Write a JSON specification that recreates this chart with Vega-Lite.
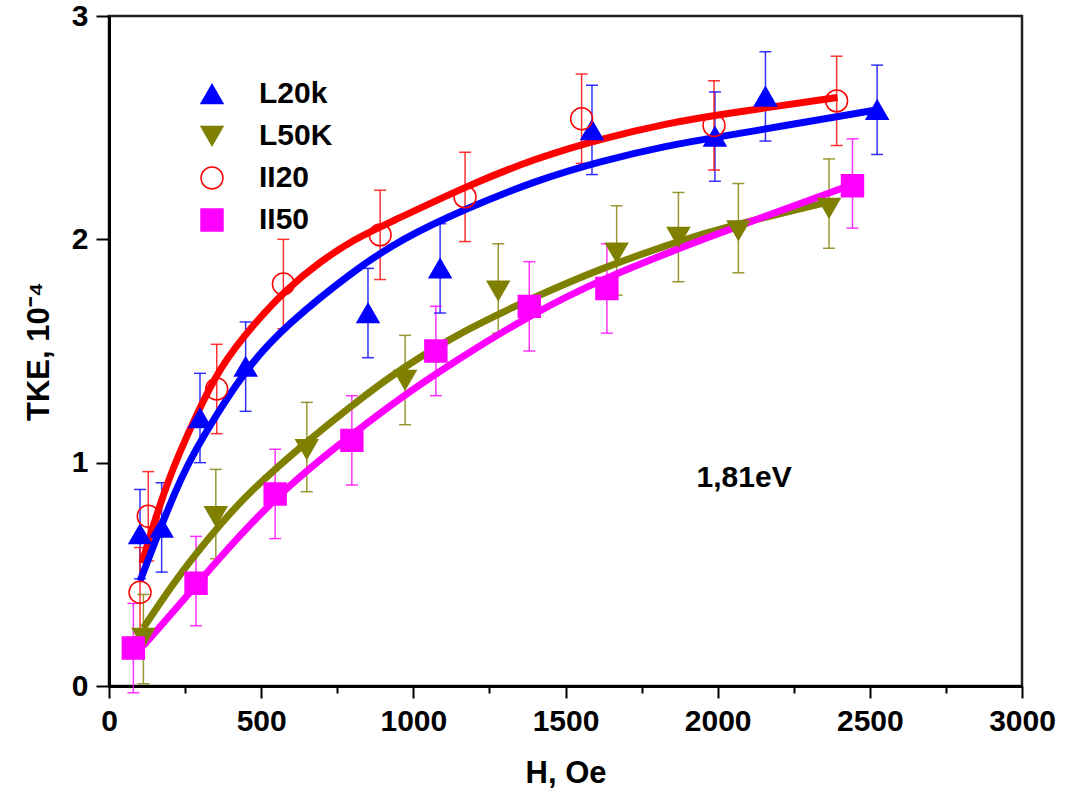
{
  "$schema": "https://vega.github.io/schema/vega-lite/v6.json",
  "width": 913,
  "height": 670,
  "autosize": {"type": "none"},
  "padding": {"left": 109, "top": 16, "right": 46, "bottom": 115},
  "background": "white",
  "config": {
    "view": {"stroke": "#222222", "strokeWidth": 2.5},
    "axis": {
      "grid": false,
      "domainColor": "black",
      "domainWidth": 3,
      "tickColor": "black",
      "tickWidth": 2,
      "labelFont": "Liberation Sans",
      "labelFontWeight": "bold",
      "labelFontSize": 30,
      "labelColor": "black",
      "titleFont": "Liberation Sans",
      "titleFontWeight": "bold",
      "titleFontSize": 31,
      "titleColor": "black",
      "labelOverlap": false,
      "labelFlush": false
    }
  },
  "resolve": {"scale": {"color": "independent"}, "legend": {"color": "independent"}},
  "datasets": {
    "pts": [
      {"series": "L20k", "h": 102, "tke": 0.68, "lo": 0.48, "hi": 0.88},
      {"series": "L20k", "h": 173, "tke": 0.71, "lo": 0.51, "hi": 0.91},
      {"series": "L20k", "h": 299, "tke": 1.20, "lo": 1.00, "hi": 1.40},
      {"series": "L20k", "h": 449, "tke": 1.43, "lo": 1.23, "hi": 1.63},
      {"series": "L20k", "h": 851, "tke": 1.67, "lo": 1.47, "hi": 1.87},
      {"series": "L20k", "h": 1088, "tke": 1.87, "lo": 1.67, "hi": 2.07},
      {"series": "L20k", "h": 1587, "tke": 2.49, "lo": 2.29, "hi": 2.69},
      {"series": "L20k", "h": 1991, "tke": 2.46, "lo": 2.26, "hi": 2.66},
      {"series": "L20k", "h": 2157, "tke": 2.64, "lo": 2.44, "hi": 2.84},
      {"series": "L20k", "h": 2524, "tke": 2.58, "lo": 2.38, "hi": 2.78},
      {"series": "L50K", "h": 113, "tke": 0.215, "lo": 0.01, "hi": 0.41},
      {"series": "L50K", "h": 351, "tke": 0.76, "lo": 0.57, "hi": 0.97},
      {"series": "L50K", "h": 650, "tke": 1.06, "lo": 0.87, "hi": 1.27},
      {"series": "L50K", "h": 973, "tke": 1.37, "lo": 1.17, "hi": 1.57},
      {"series": "L50K", "h": 1279, "tke": 1.77, "lo": 1.58, "hi": 1.98},
      {"series": "L50K", "h": 1668, "tke": 1.94, "lo": 1.75, "hi": 2.15},
      {"series": "L50K", "h": 1871, "tke": 2.01, "lo": 1.81, "hi": 2.21},
      {"series": "L50K", "h": 2068, "tke": 2.04, "lo": 1.85, "hi": 2.25},
      {"series": "L50K", "h": 2366, "tke": 2.14, "lo": 1.96, "hi": 2.36},
      {"series": "II20", "h": 102, "tke": 0.42, "lo": 0.22, "hi": 0.62},
      {"series": "II20", "h": 129, "tke": 0.76, "lo": 0.56, "hi": 0.96},
      {"series": "II20", "h": 354, "tke": 1.33, "lo": 1.13, "hi": 1.53},
      {"series": "II20", "h": 573, "tke": 1.80, "lo": 1.60, "hi": 2.00},
      {"series": "II20", "h": 891, "tke": 2.02, "lo": 1.82, "hi": 2.22},
      {"series": "II20", "h": 1170, "tke": 2.19, "lo": 1.99, "hi": 2.39},
      {"series": "II20", "h": 1553, "tke": 2.54, "lo": 2.34, "hi": 2.74},
      {"series": "II20", "h": 1988, "tke": 2.51, "lo": 2.31, "hi": 2.71},
      {"series": "II20", "h": 2391, "tke": 2.62, "lo": 2.42, "hi": 2.82},
      {"series": "II50", "h": 80, "tke": 0.17, "lo": -0.03, "hi": 0.37},
      {"series": "II50", "h": 286, "tke": 0.46, "lo": 0.27, "hi": 0.67},
      {"series": "II50", "h": 546, "tke": 0.86, "lo": 0.66, "hi": 1.06},
      {"series": "II50", "h": 798, "tke": 1.10, "lo": 0.90, "hi": 1.30},
      {"series": "II50", "h": 1074, "tke": 1.50, "lo": 1.30, "hi": 1.70},
      {"series": "II50", "h": 1381, "tke": 1.70, "lo": 1.50, "hi": 1.90},
      {"series": "II50", "h": 1636, "tke": 1.78, "lo": 1.58, "hi": 1.98},
      {"series": "II50", "h": 2443, "tke": 2.24, "lo": 2.05, "hi": 2.45}
    ],
    "fits": [
      {"series": "II20", "h": 108, "tke": 0.55},
      {"series": "II20", "h": 190, "tke": 0.92},
      {"series": "II20", "h": 289, "tke": 1.22},
      {"series": "II20", "h": 365, "tke": 1.43},
      {"series": "II20", "h": 475, "tke": 1.62},
      {"series": "II20", "h": 585, "tke": 1.78},
      {"series": "II20", "h": 694, "tke": 1.90},
      {"series": "II20", "h": 804, "tke": 2.00},
      {"series": "II20", "h": 914, "tke": 2.07},
      {"series": "II20", "h": 1177, "tke": 2.24},
      {"series": "II20", "h": 1396, "tke": 2.36},
      {"series": "II20", "h": 1615, "tke": 2.45},
      {"series": "II20", "h": 1835, "tke": 2.52},
      {"series": "II20", "h": 2010, "tke": 2.56},
      {"series": "II20", "h": 2394, "tke": 2.635},
      {"series": "L20k", "h": 102, "tke": 0.47},
      {"series": "L20k", "h": 223, "tke": 0.90},
      {"series": "L20k", "h": 300, "tke": 1.10},
      {"series": "L20k", "h": 453, "tke": 1.43},
      {"series": "L20k", "h": 585, "tke": 1.62},
      {"series": "L20k", "h": 804, "tke": 1.86},
      {"series": "L20k", "h": 958, "tke": 2.00},
      {"series": "L20k", "h": 1177, "tke": 2.14},
      {"series": "L20k", "h": 1396, "tke": 2.26},
      {"series": "L20k", "h": 1615, "tke": 2.35},
      {"series": "L20k", "h": 1835, "tke": 2.42},
      {"series": "L20k", "h": 2010, "tke": 2.46},
      {"series": "L20k", "h": 2525, "tke": 2.58},
      {"series": "L50K", "h": 113, "tke": 0.26},
      {"series": "L50K", "h": 230, "tke": 0.50},
      {"series": "L50K", "h": 375, "tke": 0.74},
      {"series": "L50K", "h": 463, "tke": 0.87},
      {"series": "L50K", "h": 628, "tke": 1.07},
      {"series": "L50K", "h": 792, "tke": 1.25},
      {"series": "L50K", "h": 956, "tke": 1.42},
      {"series": "L50K", "h": 1177, "tke": 1.60},
      {"series": "L50K", "h": 1396, "tke": 1.74},
      {"series": "L50K", "h": 1615, "tke": 1.87},
      {"series": "L50K", "h": 1890, "tke": 2.00},
      {"series": "L50K", "h": 2010, "tke": 2.05},
      {"series": "L50K", "h": 2372, "tke": 2.17},
      {"series": "II50", "h": 113, "tke": 0.18},
      {"series": "II50", "h": 286, "tke": 0.45},
      {"series": "II50", "h": 354, "tke": 0.56},
      {"series": "II50", "h": 562, "tke": 0.87},
      {"series": "II50", "h": 792, "tke": 1.12},
      {"series": "II50", "h": 956, "tke": 1.29},
      {"series": "II50", "h": 1153, "tke": 1.47},
      {"series": "II50", "h": 1396, "tke": 1.67},
      {"series": "II50", "h": 1615, "tke": 1.82},
      {"series": "II50", "h": 1947, "tke": 2.00},
      {"series": "II50", "h": 2431, "tke": 2.24}
    ],
    "notes": [
      {"h": 2087, "tke": 0.93, "label": "1,81eV"}
    ]
  },
  "encoding": {
    "x": {
      "field": "h", "type": "quantitative",
      "scale": {"domain": [0, 3000], "nice": false, "zero": false},
      "axis": {
        "title": "H, Oe",
        "values": [0, 250, 500, 750, 1000, 1250, 1500, 1750, 2000, 2250, 2500, 2750, 3000],
        "labelExpr": "datum.value % 500 === 0 ? datum.label : ''",
        "format": "d",
        "tickSize": {"condition": {"test": "datum.value % 500 === 0", "value": 12}, "value": 7},
        "labelPadding": 8,
        "titlePadding": 22
      }
    },
    "y": {
      "field": "tke", "type": "quantitative",
      "scale": {"domain": [0, 3], "nice": false, "zero": false},
      "axis": {
        "title": "TKE, 10⁻⁴",
        "values": [0, 0.5, 1, 1.5, 2, 2.5, 3],
        "format": "d",
        "labelExpr": "datum.value % 1 === 0 ? datum.label : ''",
        "tickSize": {"condition": {"test": "datum.value % 1 === 0", "value": 13}, "value": 7},
        "labelPadding": 8,
        "titlePadding": 16
      }
    }
  },
  "layer": [
    {
      "data": {"name": "pts"},
      "mark": {"type": "rule", "strokeWidth": 1.5, "opacity": 0.8},
      "encoding": {
        "y": {"field": "lo", "type": "quantitative"}, "y2": {"field": "hi"},
        "color": {"field": "series", "type": "nominal", "legend": null,
          "scale": {"domain": ["L20k", "L50K", "II20", "II50"], "range": ["#0000ff", "#808000", "#ff0000", "#ff00ff"]}}
      }
    },
    {
      "data": {"name": "pts"},
      "mark": {"type": "tick", "orient": "horizontal", "size": 12, "thickness": 1.5, "opacity": 0.8},
      "encoding": {
        "y": {"field": "lo", "type": "quantitative"},
        "color": {"field": "series", "type": "nominal", "legend": null,
          "scale": {"domain": ["L20k", "L50K", "II20", "II50"], "range": ["#0000ff", "#808000", "#ff0000", "#ff00ff"]}}
      }
    },
    {
      "data": {"name": "pts"},
      "mark": {"type": "tick", "orient": "horizontal", "size": 12, "thickness": 1.5, "opacity": 0.8},
      "encoding": {
        "y": {"field": "hi", "type": "quantitative"},
        "color": {"field": "series", "type": "nominal", "legend": null,
          "scale": {"domain": ["L20k", "L50K", "II20", "II50"], "range": ["#0000ff", "#808000", "#ff0000", "#ff00ff"]}}
      }
    },
    {
      "data": {"name": "fits"},
      "mark": {"type": "line", "strokeWidth": 7, "interpolate": "basis"},
      "encoding": {
        "color": {"field": "series", "type": "nominal", "legend": null,
          "scale": {"domain": ["L20k", "L50K", "II20", "II50"], "range": ["#0000ff", "#808000", "#ff0000", "#ff00ff"]}}
      }
    },
    {
      "data": {"name": "pts"},
      "mark": {"type": "point", "strokeWidth": 1.5, "opacity": 1},
      "encoding": {
        "stroke": {"field": "series", "type": "nominal",
          "scale": {"domain": ["L20k", "L50K", "II20", "II50"], "range": ["#0000ff", "#808000", "#ff0000", "#ff00ff"]}},
        "shape": {"field": "series", "type": "nominal",
          "scale": {"domain": ["L20k", "L50K", "II20", "II50"], "range": ["triangle-up", "triangle-down", "circle", "square"]},
          "legend": {
            "title": null,
            "orient": "none",
            "legendX": 88,
            "legendY": 63,
            "padding": 0,
            "labelFont": "Liberation Sans",
            "labelFontWeight": "bold",
            "labelFontSize": 30,
            "labelColor": "black",
            "labelOffset": 32,
            "rowPadding": 12,
            "symbolStrokeWidth": 1.5,
            "symbolOpacity": 1
          }
        },
        "fill": {"field": "series", "type": "nominal", "scale": {"domain": ["L20k", "L50K", "II20", "II50"], "range": ["#0000ff", "#808000", "transparent", "#ff00ff"]}},
        "size": {"field": "series", "type": "nominal", "scale": {"domain": ["L20k", "L50K", "II20", "II50"], "range": [480, 480, 320, 400]}}
      }
    },
    {
      "data": {"name": "notes"},
      "mark": {"type": "text", "font": "Liberation Sans", "fontWeight": "bold", "fontSize": 30, "color": "black", "align": "center", "baseline": "middle"},
      "encoding": {"text": {"field": "label"}}
    }
  ]
}
